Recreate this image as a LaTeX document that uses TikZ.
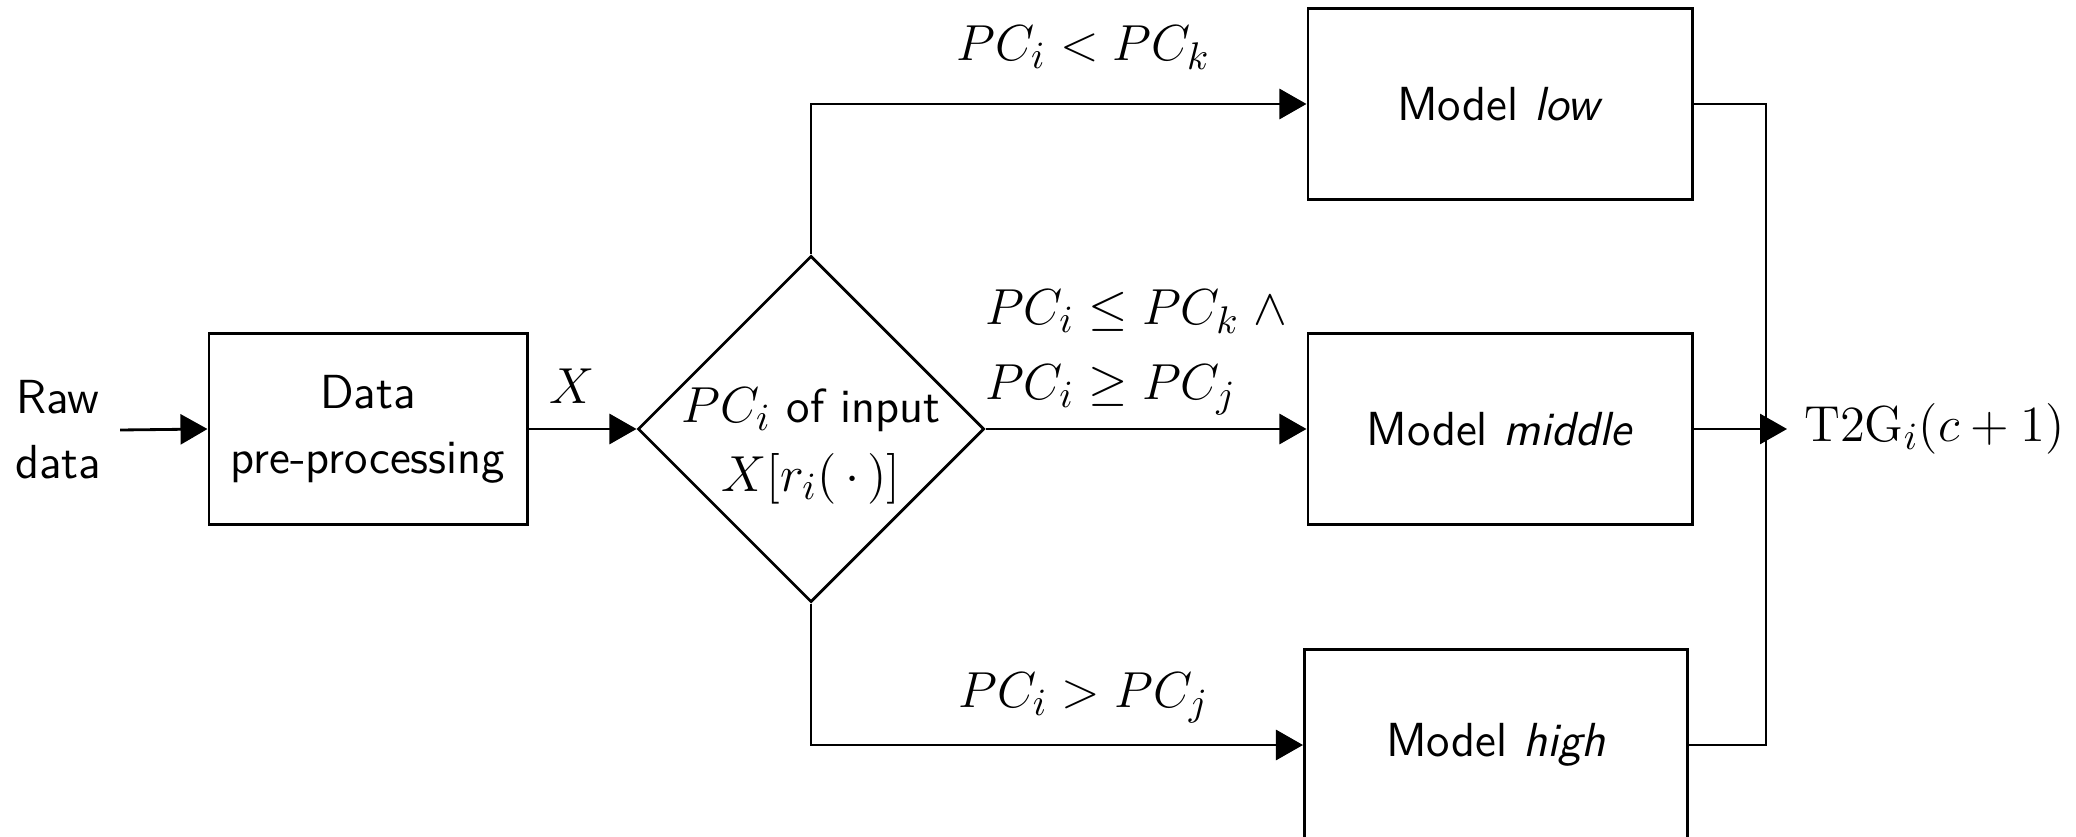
\documentclass[tikz,border=0pt]{standalone}
\usetikzlibrary{shapes.geometric,arrows.meta}
\newcommand\mth[1]{{\fontsize{15.5}{19}\selectfont$#1$}}
\begin{document}
\begin{tikzpicture}[x=0.01cm,y=-0.01cm,
  font=\sffamily\fontsize{13.6}{18.5}\selectfont,
  line width=0.8pt,
  arr/.style={-{Triangle[length=0.27cm,width=0.3cm]}},
  block/.style={draw, minimum width=#1, minimum height=1.91cm, inner sep=2pt, align=center},
  decision/.style={draw, diamond, minimum width=3.46cm, minimum height=3.46cm, inner sep=0pt},
  lbl/.style={above=2.5pt, font=\fontsize{15.5}{19}\selectfont}
]
\useasboundingbox (0,0) rectangle (2076,837);
\clip (0,0) rectangle (2076,837);

\node[align=center] (raw) at (58,430) {Raw\\data};
\node[block=3.18cm] (data) at (368,429) {Data\\pre-processing};
\node[decision] (dia) at (811,429) {};
\node[align=center, inner sep=0pt] (diatext) at ([yshift=-0.17cm]dia.center) {\mth{PC_i} of input\\[1pt]\mth{X[r_i(\,\cdot\,)]}};
\node[block=3.84cm] (low) at (1500,104) {Model \textit{low}};
\node[block=3.84cm] (mid) at (1500,429) {Model \textit{middle}};
\node[block=3.83cm] (high) at (1496,745) {Model \textit{high}};
\node[anchor=west, inner sep=4.5pt, font=\fontsize{15.5}{19}\selectfont] (out) at (1787,429) {$\mathrm{T2G}_i(c+1)$};
\coordinate (bus) at (1766,429);

\draw[arr] ([xshift=0.06cm]raw.east) -- (data.west);
\draw[arr] (data.east) -- (dia.west) node[pos=0.4, lbl, above=1pt] {$X$};
\draw[arr] (dia.north) |- (low.west) node[pos=0.775, lbl, above=3.5pt] {$PC_i < PC_k$};
\draw[arr] (dia.east) -- (mid.west) node[pos=0, anchor=south west, align=left, inner sep=0pt, xshift=-0.5pt, yshift=3.5pt, font=\fontsize{15.5}{19}\selectfont] {$PC_i \leq PC_k \;\wedge$\\[2.5pt]$PC_i \geq PC_j$};
\draw[arr] (dia.south) |- (high.west) node[pos=0.777, lbl] {$PC_i > PC_j$};
\draw (low.east) -| (bus) |- (high.east);
\draw[arr] (mid.east) -- (out.west);
\end{tikzpicture}
\end{document}
